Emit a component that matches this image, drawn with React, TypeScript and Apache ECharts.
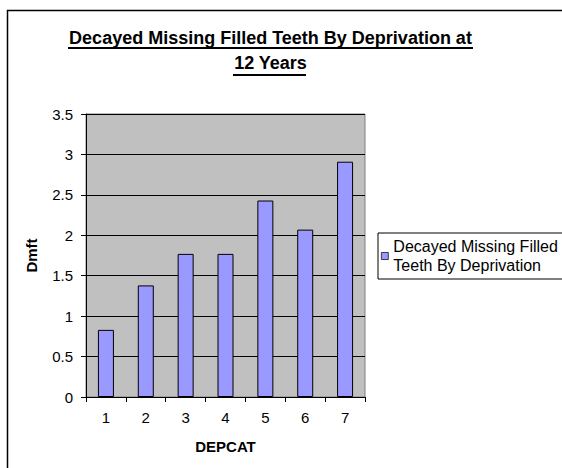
import React, { useEffect, useRef } from "react";
import * as echarts from "echarts";

const categories = ["1", "2", "3", "4", "5", "6", "7"];
const dmftValues = [0.83, 1.38, 1.77, 1.77, 2.43, 2.07, 2.91];
const seriesName = "Decayed Missing Filled Teeth By Deprivation";
const titleText = "Decayed Missing Filled Teeth By Deprivation at\n12 Years";
const FONT = "'Liberation Sans', Arial, sans-serif";

export default function App() {
  const ref = useRef<HTMLDivElement>(null);
  useEffect(() => {
    document.body.style.margin = "0";
    const chart = echarts.init(ref.current!, null, { renderer: "svg" });
    chart.setOption({
      animation: false,
      backgroundColor: "#ffffff",
      title: {
        text: titleText,
        left: 270.5,
        top: 25,
        padding: 0,
        textAlign: "center",
        textStyle: { fontFamily: FONT, fontSize: 18, fontWeight: "bold", color: "#000", lineHeight: 25 },
      },
      graphic: [
        { type: "rect", shape: { x: 7.5, y: 10.5, width: 800, height: 800 }, style: { fill: "none", stroke: "#000", lineWidth: 1.5 }, silent: true },
        { type: "line", shape: { x1: 68, y1: 48, x2: 473, y2: 48 }, style: { stroke: "#000", lineWidth: 2 } },
        { type: "line", shape: { x1: 233, y1: 75, x2: 306, y2: 75 }, style: { stroke: "#000", lineWidth: 2 } },
      ],
      legend: {
        left: 378,
        top: 233,
        orient: "vertical",
        padding: [4, 40, 4, 3],
        borderColor: "#000",
        borderWidth: 1,
        backgroundColor: "#fff",
        icon: "rect",
        itemWidth: 7,
        itemHeight: 7,
        formatter: () => "Decayed Missing Filled\nTeeth By Deprivation",
        itemStyle: { borderColor: "#000", borderWidth: 0.7 },
        textStyle: { fontFamily: FONT, fontSize: 16, color: "#000", lineHeight: 19 },
        data: [seriesName],
      },
      grid: {
        left: 86,
        top: 114,
        width: 279,
        height: 283,
        show: true,
        backgroundColor: "#C0C0C0",
        borderColor: "#808080",
        borderWidth: 1,
      },
      xAxis: {
        type: "category",
        data: categories,
        name: "DEPCAT",
        nameLocation: "middle",
        nameGap: 42,
        nameTextStyle: { fontFamily: FONT, fontSize: 15, fontWeight: "bold", color: "#000" },
        axisLine: { lineStyle: { color: "#000", width: 1 } },
        axisTick: { show: true, alignWithLabel: false, length: 5, lineStyle: { color: "#000" } },
        axisLabel: { fontFamily: FONT, fontSize: 15, color: "#000", margin: 13 },
      },
      yAxis: {
        type: "value",
        min: 0,
        max: 3.5,
        interval: 0.5,
        name: "Dmft",
        nameLocation: "middle",
        nameGap: 47,
        nameRotate: 90,
        nameTextStyle: { fontFamily: FONT, fontSize: 15, fontWeight: "bold", color: "#000" },
        axisLine: { show: true, lineStyle: { color: "#000", width: 1 } },
        axisTick: { show: true, length: 5, lineStyle: { color: "#000" } },
        axisLabel: { fontFamily: FONT, fontSize: 15, color: "#000", margin: 13 },
        splitLine: { show: true, lineStyle: { color: "#000", width: 1 } },
      },
      series: [
        {
          name: seriesName,
          type: "bar",
          data: dmftValues,
          barWidth: 16,
          itemStyle: { color: "#9999FF", borderColor: "#000", borderWidth: 1 },
        },
      ],
    });
    return () => chart.dispose();
  }, []);
  return <div ref={ref} style={{ width: 562, height: 468 }} />;
}
